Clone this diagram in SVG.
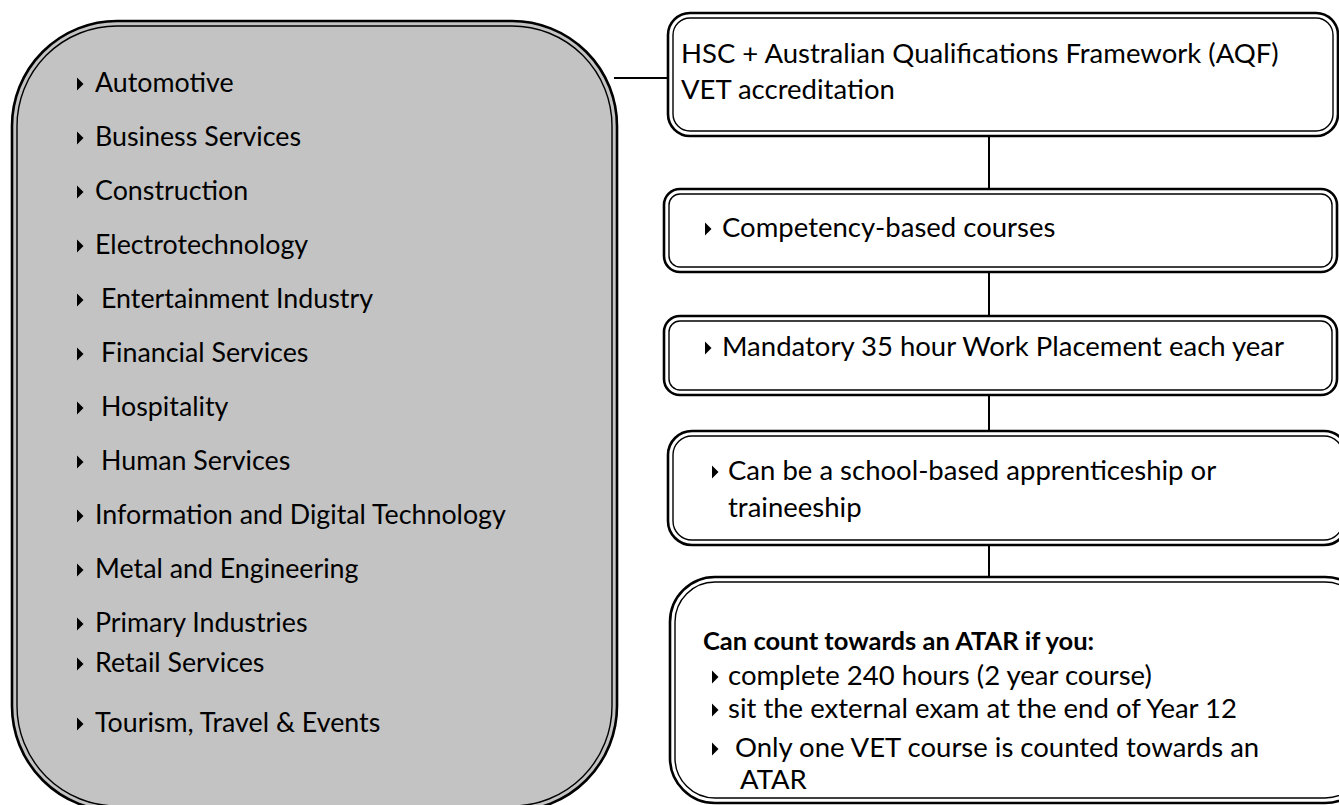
<svg xmlns="http://www.w3.org/2000/svg" xmlns:xlink="http://www.w3.org/1999/xlink" width="1339" height="805" viewBox="0 0 1339 805">
<style>
.o{fill:none;stroke:#000;stroke-width:2.6}
.i{fill:none;stroke:#000;stroke-width:1.4}
.t{font-family:Lato,"Liberation Sans",sans-serif;font-size:26.8px;fill:#000}
.r{font-family:Lato,"Liberation Sans",sans-serif;font-size:27.5px;fill:#000}
.b{font-weight:bold;font-size:25.5px}
.c{fill:none;stroke:#000;stroke-width:2}
</style>
<defs>
<path id="tri" d="M0,-6.5 L6.5,0 L0,6.5 Z" fill="#000"/>
</defs>
<g id="connectors">
<line class="c" x1="614" y1="78" x2="668" y2="78"/>
<line class="c" x1="989" y1="136" x2="989" y2="189"/>
<line class="c" x1="989" y1="272" x2="989" y2="316"/>
<line class="c" x1="989" y1="395" x2="989" y2="431"/>
<line class="c" x1="989" y1="545" x2="989" y2="577"/>
</g>
<g id="sectors">
<rect x="12" y="21" width="605" height="790" rx="105" fill="#c3c3c3"/>
<rect class="o" x="12" y="21" width="605" height="790" rx="105"/>
<rect class="i" x="17" y="26" width="595" height="780" rx="100"/>
<use xlink:href="#tri" x="77" y="84"/><text class="t" x="95" y="92">Automotive</text>
<use xlink:href="#tri" x="77" y="138"/><text class="t" x="95" y="146">Business Services</text>
<use xlink:href="#tri" x="77" y="192"/><text class="t" x="95" y="200">Construction</text>
<use xlink:href="#tri" x="77" y="246"/><text class="t" x="95" y="254">Electrotechnology</text>
<use xlink:href="#tri" x="77" y="300"/><text class="t" x="101" y="308">Entertainment Industry</text>
<use xlink:href="#tri" x="77" y="354"/><text class="t" x="101" y="362">Financial Services</text>
<use xlink:href="#tri" x="77" y="408"/><text class="t" x="101" y="416">Hospitality</text>
<use xlink:href="#tri" x="77" y="462"/><text class="t" x="101" y="470">Human Services</text>
<use xlink:href="#tri" x="77" y="516"/><text class="t" x="95" y="524">Information and Digital Technology</text>
<use xlink:href="#tri" x="77" y="570"/><text class="t" x="95" y="578">Metal and Engineering</text>
<use xlink:href="#tri" x="77" y="624"/><text class="t" x="95" y="632">Primary Industries</text>
<use xlink:href="#tri" x="77" y="664"/><text class="t" x="95" y="672">Retail Services</text>
<use xlink:href="#tri" x="77" y="724"/><text class="t" x="95" y="732">Tourism, Travel &amp; Events</text>
</g>
<g id="hsc">
<rect class="o" x="668" y="13" width="670" height="123" rx="22" fill="#fff"/>
<rect class="i" x="673" y="18" width="660" height="113" rx="17"/>
<text class="r" x="681" y="63">HSC + Australian Qualifications Framework (AQF)</text>
<text class="r" x="681" y="99">VET accreditation</text>
</g>
<g id="competency">
<rect class="o" x="664" y="189" width="673" height="83" rx="16" fill="#fff"/>
<rect class="i" x="669" y="194" width="663" height="73" rx="11"/>
<use xlink:href="#tri" x="705" y="229"/><text class="r" x="722" y="237">Competency-based courses</text>
</g>
<g id="placement">
<rect class="o" x="664" y="316" width="673" height="79" rx="16" fill="#fff"/>
<rect class="i" x="669" y="321" width="663" height="69" rx="11"/>
<use xlink:href="#tri" x="705" y="348"/><text class="r" x="722" y="356">Mandatory 35 hour Work Placement each year</text>
</g>
<g id="apprenticeship">
<rect class="o" x="668" y="431" width="680" height="114" rx="24" fill="#fff"/>
<rect class="i" x="673" y="436" width="670" height="104" rx="19"/>
<use xlink:href="#tri" x="712" y="472"/><text class="r" x="728" y="480">Can be a school-based apprenticeship or</text>
<text class="r" x="728" y="517">traineeship</text>
</g>
<g id="atar">
<rect class="o" x="670" y="577" width="700" height="226" rx="45" fill="#fff"/>
<rect class="i" x="675" y="582" width="690" height="216" rx="40"/>
<text class="r b" x="703" y="650">Can count towards an ATAR if you:</text>
<use xlink:href="#tri" x="712" y="677"/><text class="r" x="728" y="685">complete 240 hours (2 year course)</text>
<use xlink:href="#tri" x="712" y="710"/><text class="r" x="728" y="718">sit the external exam at the end of Year 12</text>
<use xlink:href="#tri" x="712" y="749"/><text class="r" x="735" y="757">Only one VET course is counted towards an</text>
<text class="r" x="740" y="789">ATAR</text>
</g>
</svg>
